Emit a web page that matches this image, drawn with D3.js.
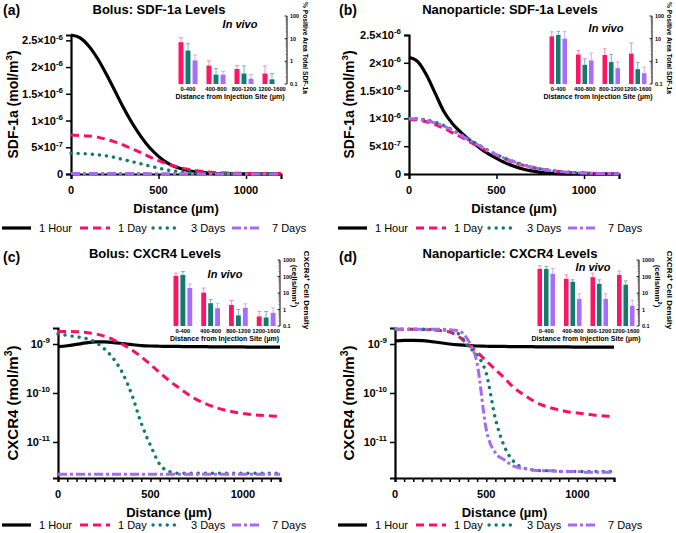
<!DOCTYPE html>
<html>
<head>
<meta charset="utf-8">
<script src="https://cdn.jsdelivr.net/npm/d3@7"></script>
<style>
body { margin: 0; background: #fff; }
text { font-family: "Liberation Sans", Arial, sans-serif; }
</style>
</head>
<body>
<svg id="fig" width="676" height="533"></svg>
<script>
// ---- data ----
var dist = [0,50,100,150,200,250,300,350,400,450,500,550,600,650,700,750,800,850,900,950,1000,1050,1100,1150,1200];
var seriesNames = ['1 Hour', '1 Day', '3 Days', '7 Days'];

// SDF-1a, in units of 1e-6 mol/m3
var sdfUnit = 1e-6;
var bolusSdf1Hour = [2.60,2.55,2.40,2.17,1.88,1.56,1.24,0.95,0.70,0.49,0.33,0.21,0.13,0.08,0.045,0.025,0.013,0.007,0.004,0.002,0.001,0.001,0.001,0.001,0.001];
var bolusSdf1Day = [0.73,0.72,0.71,0.69,0.65,0.60,0.54,0.47,0.40,0.32,0.25,0.19,0.14,0.10,0.07,0.05,0.035,0.025,0.018,0.014,0.011,0.009,0.008,0.007,0.006];
var bolusSdf3Days = [0.39,0.385,0.375,0.36,0.34,0.31,0.27,0.23,0.19,0.15,0.11,0.075,0.05,0.03,0.018,0.01,0.006,0.004,0.003,0.002,0.002,0.001,0.001,0.001,0.001];
var bolusSdf7Days = [0.008,0.008,0.008,0.008,0.008,0.008,0.008,0.008,0.008,0.007,0.007,0.006,0.005,0.004,0.003,0.002,0.002,0.001,0.001,0.001,0.001,0.001,0.001,0.001,0.001];
var npSdf1Hour = [2.10,2.02,1.78,1.45,1.12,0.90,0.74,0.60,0.48,0.37,0.28,0.20,0.14,0.09,0.055,0.03,0.016,0.008,0.004,0.002,0.001,0.001,0.001,0.001,0.001];
var npSdf1Day = [0.98,0.97,0.94,0.89,0.82,0.74,0.66,0.57,0.49,0.41,0.34,0.27,0.21,0.16,0.12,0.09,0.065,0.047,0.033,0.024,0.017,0.012,0.009,0.007,0.005];
var npSdf3Days = [1.0,0.99,0.97,0.93,0.87,0.79,0.70,0.61,0.52,0.43,0.35,0.28,0.22,0.17,0.125,0.092,0.067,0.048,0.034,0.024,0.017,0.012,0.009,0.007,0.005];
var npSdf7Days = [1.0,0.99,0.96,0.92,0.86,0.78,0.69,0.60,0.51,0.42,0.35,0.28,0.22,0.165,0.12,0.09,0.066,0.047,0.033,0.024,0.017,0.012,0.009,0.007,0.005];

// CXCR4, in units of 1e-9 mol/m3
var cxUnit = 1e-9;
var bolusCx1Hour = [0.88,0.92,0.98,1.05,1.10,1.10,1.07,1.02,0.97,0.93,0.91,0.90,0.89,0.89,0.88,0.88,0.88,0.87,0.87,0.87,0.87,0.86,0.86,0.86,0.86];
var bolusCx1Day = [1.80,1.80,1.78,1.72,1.62,1.45,1.22,0.98,0.75,0.55,0.38,0.26,0.18,0.13,0.095,0.073,0.06,0.051,0.045,0.041,0.038,0.036,0.035,0.034,0.033];
var bolusCx3Days = [1.60,1.50,1.40,1.30,1.10,0.80,0.50,0.25,0.09,0.024,0.0085,0.0035,0.0025,0.0023,0.0023,0.0023,0.0023,0.0023,0.0023,0.0023,0.0023,0.0023,0.0023,0.0023,0.0023];
var bolusCx7Days = [0.0022,0.0022,0.0022,0.0022,0.0022,0.0022,0.0022,0.0022,0.0022,0.0022,0.0022,0.0022,0.0022,0.0022,0.0022,0.0022,0.0022,0.0022,0.0022,0.0022,0.0022,0.0022,0.0022,0.0022,0.0022];
var npCx1Hour = [1.15,1.18,1.19,1.17,1.12,1.06,1.00,0.96,0.93,0.91,0.90,0.89,0.89,0.88,0.88,0.88,0.87,0.87,0.87,0.87,0.86,0.86,0.86,0.86,0.86];
var npCx1Day = [2.0,2.0,2.0,1.98,1.95,1.88,1.75,1.40,0.98,0.68,0.45,0.30,0.20,0.13,0.095,0.072,0.058,0.05,0.045,0.041,0.039,0.037,0.035,0.034,0.033];
var npCx3Days = [2.0,2.0,2.0,2.0,1.98,1.95,1.85,1.60,0.90,0.60,0.25,0.03,0.008,0.004,0.003,0.0027,0.0026,0.0026,0.0025,0.0025,0.0025,0.0025,0.0025,0.0025,0.0025];
var npCx7Days = [2.0,2.0,2.0,2.0,2.0,2.0,1.95,1.85,1.20,0.40,0.018,0.006,0.0043,0.0032,0.0029,0.0027,0.0026,0.0026,0.0025,0.0025,0.0025,0.0024,0.0024,0.0024,0.0024];

// in vivo insets: bar value and top of error bar, per distance bin
var bins = ['0-400', '400-800', '800-1200', '1200-1600'];
var insetSeries = ['1 Day', '3 Days', '7 Days'];
var bolusSdfBars = [[7, 0.65, 0.46, 0.29], [3.0, 0.26, 0.29, 0.16], [1.1, 0.26, 0.17, null]];
var bolusSdfErr = [[11, 1.05, 0.65, 0.63], [6, 0.48, 0.63, 0.29], [1.9, 0.36, 0.26, null]];
var npSdfBars = [[12.7, 2.0, 1.9, 2.2], [14.5, 0.7, 0.93, 0.45], [10, 1.1, 0.5, 0.3]];
var npSdfErr = [[20, 3, 3.6, 6.5], [21, 1.3, 2, 0.9], [21, 2.3, 0.95, 0.55]];
var bolusCxBars = [[110, 10.5, 1.9, 0.38], [125, 2.4, 0.44, 0.33], [20, 1.2, 1.26, 0.63]];
var bolusCxErr = [[160, 20, 3.5, 0.76], [200, 4, 1.0, 0.76], [35, 2.4, 2.2, 1.26]];
var npCxBars = [[290, 72, 91, 125], [290, 48, 36, 32], [145, 4.4, 4.4, 1.7]];
var npCxErr = [[450, 125, 160, 210], [400, 63, 63, 55], [300, 9, 9, 3.6]];

// ---- styles ----
var lineStyle = {
  '1 Hour': { color: '#000000', dash: null, width: 3.2, cap: 'butt' },
  '1 Day': { color: '#fb0f62', dash: '8,5', width: 3, cap: 'butt' },
  '3 Days': { color: '#147a6f', dash: '0.1,7', width: 3.4, cap: 'round' },
  '7 Days': { color: '#a66af2', dash: '9,3,3,3', width: 3, cap: 'butt' }
};
var barColor = { '1 Day': '#ff1464', '3 Days': '#137a6e', '7 Days': '#a86cff' };
var errColor = { '1 Day': '#ff8db2', '3 Days': '#74b8b0', '7 Days': '#cfabff' };

var svg = d3.select('#fig');

// text with a superscript part, e.g. 2.5x10^-6
function supText(g, x, y, base, sup, anchor, size) {
  var t = g.append('text')
    .attr('x', x).attr('y', y)
    .attr('text-anchor', anchor)
    .attr('font-size', size)
    .attr('font-weight', 'bold');
  t.append('tspan').text(base);
  if (sup) {
    t.append('tspan').attr('dy', -size * 0.42).attr('font-size', size * 0.72).text(sup);
  }
  return t;
}

function drawPanel(p) {
  var g = svg.append('g');
  var x = d3.scaleLinear().domain([0, 1200]).range([p.left, p.right]);
  var y = p.log
    ? d3.scaleLog().domain(p.yDomain).range([p.bottom, p.top])
    : d3.scaleLinear().domain(p.yDomain).range([p.bottom, p.top]);

  // letter + title
  g.append('text').attr('x', p.ox + 3).attr('y', p.letterY)
    .attr('font-size', 14).attr('font-weight', 'bold').text(p.letter);
  g.append('text').attr('x', p.titleX).attr('y', p.titleY)
    .attr('text-anchor', 'middle').attr('font-size', 13).attr('font-weight', 'bold').text(p.title);

  // x axis
  var xTicks = p.minorX ? d3.range(0, 1201, 50) : [0, 500, 1000];
  var xAxis = g.append('g')
    .attr('transform', 'translate(0,' + p.bottom + ')')
    .call(d3.axisBottom(x).tickValues(xTicks).tickSize(p.minorX ? 4 : 5).tickFormat(''));
  xAxis.select('.domain').attr('stroke-width', 2.2);
  xAxis.selectAll('.tick line').attr('stroke-width', 1.5);
  [0, 500, 1000].forEach(function(v) {
    g.append('text').attr('x', x(v)).attr('y', p.bottom + 20)
      .attr('text-anchor', 'middle').attr('font-size', 11).attr('font-weight', 'bold').text(v);
  });
  g.append('text').attr('x', (p.left + p.right) / 2).attr('y', p.bottom + 39)
    .attr('text-anchor', 'middle').attr('font-size', 13).attr('font-weight', 'bold')
    .text('Distance (\u00b5m)');

  // y axis
  var yAxis = g.append('g')
    .attr('transform', 'translate(' + p.left + ',0)')
    .call(d3.axisLeft(y).tickValues(p.yTicks.map(function(d) { return d.v; })).tickSize(5).tickFormat(''));
  yAxis.select('.domain').attr('stroke-width', 2.2);
  yAxis.selectAll('.tick line').attr('stroke-width', 1.5);
  p.yTicks.forEach(function(d) {
    supText(g, p.left - 8, y(d.v) + 4, d.base, d.sup, 'end', 11);
  });
  var yt = g.append('text')
    .attr('transform', 'translate(' + p.yTitleX + ',' + (p.top + p.bottom) / 2 + ') rotate(-90)')
    .attr('text-anchor', 'middle').attr('font-size', p.yTitleSize).attr('font-weight', 'bold');
  yt.append('tspan').text(p.yTitle + ' (mol/m');
  yt.append('tspan').attr('dy', -6).attr('font-size', p.yTitleSize * 0.7).text('3');
  yt.append('tspan').attr('dy', 6).text(')');

  // curves
  var line = d3.line()
    .x(function(d) { return x(d[0]); })
    .y(function(d) { return y(d[1]); })
    .curve(d3.curveMonotoneX);
  p.series.forEach(function(vals, i) {
    var st = lineStyle[seriesNames[i]];
    var pts = dist.map(function(d, j) { return [d, vals[j] * p.unit]; });
    g.append('path')
      .attr('d', line(pts))
      .attr('fill', 'none')
      .attr('stroke', st.color)
      .attr('stroke-width', st.width)
      .attr('stroke-dasharray', st.dash)
      .attr('stroke-linecap', st.cap);
  });

  drawInset(p.inset);
  drawLegend(p.ox, p.legendY);
}

function drawInset(s) {
  var g = svg.append('g');
  var x0 = d3.scaleBand().domain(bins).range([s.x0, s.x1]);
  var x1 = d3.scaleBand().domain(insetSeries).range([4.5, x0.bandwidth() - 4.5]).paddingInner(0.3);
  var y = d3.scaleLog().domain(s.domain).range([s.bottom, s.top]);

  s.bars.forEach(function(vals, si) {
    var name = insetSeries[si];
    vals.forEach(function(v, bi) {
      if (v == null) return;
      var bx = x0(bins[bi]) + x1(name);
      var e = s.err[si][bi];
      g.append('line')
        .attr('x1', bx + x1.bandwidth() / 2).attr('x2', bx + x1.bandwidth() / 2)
        .attr('y1', y(v)).attr('y2', y(e))
        .attr('stroke', errColor[name]).attr('stroke-width', 1);
      g.append('line')
        .attr('x1', bx + 0.5).attr('x2', bx + x1.bandwidth() - 0.5)
        .attr('y1', y(e)).attr('y2', y(e))
        .attr('stroke', errColor[name]).attr('stroke-width', 1);
      g.append('rect')
        .attr('x', bx).attr('y', y(v))
        .attr('width', x1.bandwidth()).attr('height', s.bottom - y(v))
        .attr('fill', barColor[name]);
    });
  });

  // right-hand log axis
  var decades = [];
  for (var v = s.domain[0]; v <= s.domain[1] * 1.001; v *= 10) decades.push(v);
  var minor = [];
  decades.slice(0, -1).forEach(function(d) {
    for (var k = 2; k < 10; k++) minor.push(d * k);
  });
  g.append('line').attr('x1', s.axis).attr('x2', s.axis)
    .attr('y1', s.bottom).attr('y2', s.top)
    .attr('stroke', '#000').attr('stroke-width', 1);
  minor.forEach(function(m) {
    g.append('line').attr('x1', s.axis - 1.5).attr('x2', s.axis)
      .attr('y1', y(m)).attr('y2', y(m)).attr('stroke', '#555').attr('stroke-width', 0.6);
  });
  decades.forEach(function(d) {
    g.append('line').attr('x1', s.axis - 2.5).attr('x2', s.axis)
      .attr('y1', y(d)).attr('y2', y(d)).attr('stroke', '#000').attr('stroke-width', 0.8);
    g.append('text').attr('x', s.axis + 3).attr('y', y(d) + 2)
      .attr('font-size', 5.5).attr('font-weight', 'bold').text(d3.format('~g')(d));
  });

  bins.forEach(function(b) {
    g.append('text').attr('x', x0(b) + x0.bandwidth() / 2).attr('y', s.bottom + 7)
      .attr('text-anchor', 'middle').attr('font-size', 5.8).attr('font-weight', 'bold').text(b);
  });
  g.append('text').attr('x', (s.x0 + s.x1) / 2).attr('y', s.bottom + 15)
    .attr('text-anchor', 'middle').attr('font-size', 7).attr('font-weight', 'bold')
    .text('Distance from Injection Site (\u00b5m)');

  g.append('text').attr('x', s.vivoX).attr('y', s.vivoY)
    .attr('text-anchor', 'middle').attr('font-size', 11)
    .attr('font-weight', 'bold').attr('font-style', 'italic').text('In vivo');

  // rotated axis title
  s.yTitle.forEach(function(lineParts, i) {
    var t = g.append('text')
      .attr('transform', 'translate(' + s.yTitleX[i] + ',' + s.yTitleY[i] + ') rotate(90)')
      .attr('text-anchor', 'middle').attr('font-size', 8).attr('font-weight', 'bold');
    if (s.yTitleLen) t.attr('textLength', s.yTitleLen).attr('lengthAdjust', 'spacingAndGlyphs');
    lineParts.forEach(function(part) {
      var ts = t.append('tspan').text(part.t);
      if (part.sup) ts.attr('dy', -3).attr('font-size', 5.5);
      if (part.after) ts.attr('dy', 3);
    });
  });
}

function drawLegend(ox, ly) {
  var g = svg.append('g').attr('transform', 'translate(' + ox + ',' + ly + ')');
  var items = [
    { name: '1 Hour', x1: 2, x2: 31, tx: 39 },
    { name: '1 Day', x1: 80, x2: 110, tx: 118 },
    { name: '3 Days', x1: 153, x2: 178, tx: 191 },
    { name: '7 Days', x1: 232, x2: 262, tx: 272 }
  ];
  items.forEach(function(it) {
    var st = lineStyle[it.name];
    g.append('line').attr('x1', it.x1).attr('x2', it.x2).attr('y1', 0).attr('y2', 0)
      .attr('stroke', st.color).attr('stroke-width', st.width)
      .attr('stroke-dasharray', st.dash).attr('stroke-linecap', st.cap);
    g.append('text').attr('x', it.tx).attr('y', 4).attr('font-size', 11).text(it.name);
  });
}

var sdfTicks = [
  { v: 0, base: '0' },
  { v: 5e-7, base: '5\u00d710', sup: '-7' },
  { v: 1e-6, base: '1\u00d710', sup: '-6' },
  { v: 1.5e-6, base: '1.5\u00d710', sup: '-6' },
  { v: 2e-6, base: '2\u00d710', sup: '-6' },
  { v: 2.5e-6, base: '2.5\u00d710', sup: '-6' }
];
var cxTicks = [
  { v: 1e-9, base: '10', sup: '-9' },
  { v: 1e-10, base: '10', sup: '-10' },
  { v: 1e-11, base: '10', sup: '-11' }
];
var sdfInsetTitle = [[{ t: '% Positive Area Total SDF-1a' }]];
var cxInsetTitle = [
  [{ t: 'CXCR4' }, { t: '+', sup: true }, { t: ' Cell Density', after: true }],
  [{ t: '(cells/mm' }, { t: '2', sup: true }, { t: ')', after: true }]
];

drawPanel({
  ox: 0, letter: '(a)', title: 'Bolus: SDF-1a Levels', titleX: 159, titleY: 14, letterY: 15,
  left: 71, right: 281, top: 35, bottom: 174, yDomain: [0, 2.6e-6], log: false,
  yTicks: sdfTicks, unit: sdfUnit, yTitle: 'SDF-1a', yTitleX: 18, yTitleSize: 14,
  series: [bolusSdf1Hour, bolusSdf1Day, bolusSdf3Days, bolusSdf7Days], minorX: false, legendY: 228,
  inset: { x0: 174, x1: 286, axis: 287, top: 16, bottom: 84, domain: [0.1, 100],
    bars: bolusSdfBars, err: bolusSdfErr, vivoX: 240, vivoY: 28,
    yTitle: sdfInsetTitle, yTitleX: [303], yTitleY: [48], yTitleLen: 92 }
});
drawPanel({
  ox: 336, letter: '(b)', title: 'Nanoparticle: SDF-1a Levels', titleX: 510, titleY: 14, letterY: 15,
  left: 409, right: 619, top: 35, bottom: 174, yDomain: [0, 2.5e-6], log: false,
  yTicks: sdfTicks, unit: sdfUnit, yTitle: 'SDF-1a', yTitleX: 354, yTitleSize: 14,
  series: [npSdf1Hour, npSdf1Day, npSdf3Days, npSdf7Days], minorX: false, legendY: 228,
  inset: { x0: 545, x1: 651, axis: 652, top: 16, bottom: 84, domain: [0.1, 100],
    bars: npSdfBars, err: npSdfErr, vivoX: 606, vivoY: 32,
    yTitle: sdfInsetTitle, yTitleX: [667], yTitleY: [48], yTitleLen: 92 }
});
drawPanel({
  ox: 0, letter: '(c)', title: 'Bolus: CXCR4 Levels', titleX: 155, titleY: 258, letterY: 262,
  left: 58, right: 280, top: 328, bottom: 478, yDomain: [1.84e-12, 2.12e-9], log: true,
  yTicks: cxTicks, unit: cxUnit, yTitle: 'CXCR4', yTitleX: 18, yTitleSize: 15,
  series: [bolusCx1Hour, bolusCx1Day, bolusCx3Days, bolusCx7Days], minorX: true, legendY: 525,
  inset: { x0: 169, x1: 280, axis: 280, top: 260, bottom: 326, domain: [0.1, 1000],
    bars: bolusCxBars, err: bolusCxErr, vivoX: 225, vivoY: 278,
    yTitle: cxInsetTitle, yTitleX: [304, 292], yTitleY: [290, 286] }
});
drawPanel({
  ox: 336, letter: '(d)', title: 'Nanoparticle: CXCR4 Levels', titleX: 510, titleY: 258, letterY: 262,
  left: 395, right: 614, top: 328, bottom: 478, yDomain: [1.84e-12, 2.12e-9], log: true,
  yTicks: cxTicks, unit: cxUnit, yTitle: 'CXCR4', yTitleX: 354, yTitleSize: 15,
  series: [npCx1Hour, npCx1Day, npCx3Days, npCx7Days], minorX: true, legendY: 525,
  inset: { x0: 533, x1: 639, axis: 639, top: 260, bottom: 326, domain: [0.1, 1000],
    bars: npCxBars, err: npCxErr, vivoX: 593, vivoY: 271,
    yTitle: cxInsetTitle, yTitleX: [667, 655], yTitleY: [290, 286] }
});
</script>
</body>
</html>
